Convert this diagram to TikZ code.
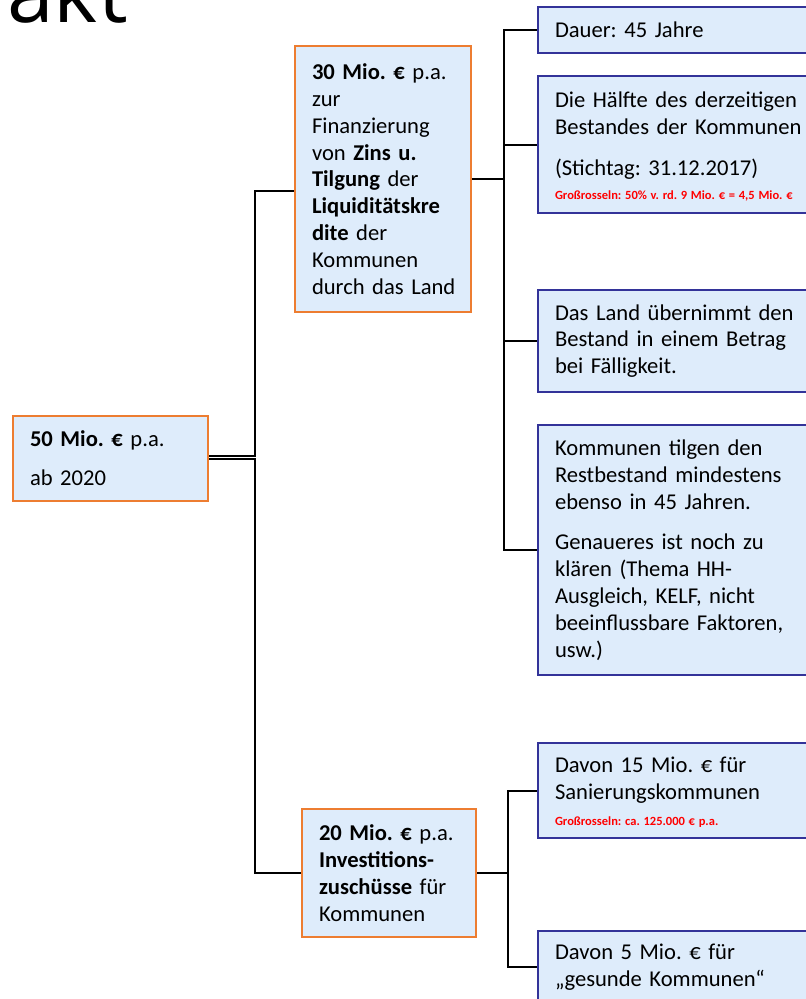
\documentclass[tikz,border=0pt]{standalone}
\usepackage{fontspec}
\setmainfont{Carlito}
\newfontfamily\titlefont{Open Sans}
\definecolor{boxfill}{RGB}{222,236,251}
\definecolor{orangeb}{RGB}{237,125,49}
\definecolor{blueb}{RGB}{51,51,153}
\definecolor{redtxt}{RGB}{255,0,0}
\newcommand\grossr[1]{{\fontsize{12.5}{26.8}\selectfont\bfseries\spaceskip=0.3em\relax\color{redtxt}#1}}
\begin{document}
\frenchspacing
\begin{tikzpicture}[x=1pt,y=-1pt,
  box/.style={rectangle, fill=boxfill, line width=2.5pt, inner xsep=17pt, inner ysep=0pt,
    align=left, font=\frenchspacing\fontsize{22.6}{26.8}\selectfont},
  obox/.style={box, draw=orangeb},
  bbox/.style={box, draw=blueb, minimum width=292pt, text width=258pt},
  conn/.style={draw=black, line width=2pt}]
\useasboundingbox (0,0) rectangle (806,999);

\node[font=\titlefont\fontsize{84}{84}\selectfont, anchor=base west, inner sep=0pt] (title) at (7,22) {akt};

\coordinate (t1) at (255,0);
\coordinate (t2) at (504,0);
\coordinate (t3) at (508,0);

\node[obox, minimum width=195pt, minimum height=85pt, text width=161pt] (root) at (110.5,458.5)
  {\textbf{50 Mio. €} p.a.\\[12pt] ab 2020};

\node[obox, minimum width=176pt, minimum height=266pt, text width=142pt] (b30) at (383,179)
  {\textbf{30 Mio. €} p.a.\\ zur\\ Finanzierung\\ \mbox{von \textbf{Zins u.}}\\ \mbox{\textbf{Tilgung} der}\\
   \textbf{Liquiditätskre}\\ \mbox{\textbf{dite} der}\\ Kommunen\\ \mbox{durch das Land}};

\node[obox, minimum width=174pt, minimum height=128pt, text width=140pt] (b20) at (389,873)
  {\mbox{\textbf{20 Mio. €} p.a.}\\ \textbf{Investitions-}\\ \mbox{\textbf{zuschüsse} für}\\ Kommunen};

\node[bbox, minimum height=46pt] (dauer) at (684,30) {Dauer: 45 Jahre};

\node[bbox, minimum height=137pt] (haelfte) at (684,144.5)
  {\rule{0pt}{20pt}Die Hälfte des derzeitigen\\ Bestandes der Kommunen\\[14pt] (Stichtag: 31.12.2017)\\[-3pt]
   \mbox{\grossr{Großrosseln: 50\% v. rd. 9 Mio. € = 4,5 Mio. €}}};

\node[bbox, minimum height=102pt] (land) at (684,341)
  {Das Land übernimmt den\\ Bestand in einem Betrag\\ bei Fälligkeit.};

\node[bbox, minimum height=250pt] (kommunen) at (684,550)
  {Kommunen tilgen den\\ Restbestand mindestens\\ ebenso in 45 Jahren.\\[14pt]
   Genaueres ist noch zu\\ klären (Thema HH-\\ Ausgleich, KELF, nicht\\ \mbox{beeinflussbare Faktoren,}\\ usw.)};

\node[bbox, minimum height=95pt] (davon15) at (684,790.5)
  {\rule{0pt}{19pt}Davon 15 Mio. € für\\ Sanierungskommunen\\[-1pt] \mbox{\grossr{Großrosseln: ca. 125.000 € p.a.}}};

\node[bbox, minimum height=72pt] (davon5) at (684,967)
  {Davon 5 Mio. € für\\ „gesunde Kommunen“};

% connectors
\coordinate (r1) at ([yshift=3pt]root.east);
\coordinate (b30in) at ([yshift=-12pt]b30.west);
\draw[conn] (r1) -- (r1 -| t1) |- (b30in);
\draw[conn] (root.east) -- (root.east -| t1) |- (b20.west);

\draw[conn] (b30.east) -- (b30.east -| t2);
\draw[conn] (dauer.west) -| (t2 |- kommunen.west) -- (kommunen.west);
\draw[conn] (haelfte.west) -- (haelfte.west -| t2);
\draw[conn] (land.west) -- (land.west -| t2);

\draw[conn] (b20.east) -- (b20.east -| t3);
\draw[conn] (davon15.west) -| (t3 |- davon5.west) -- (davon5.west);
\end{tikzpicture}
\end{document}
